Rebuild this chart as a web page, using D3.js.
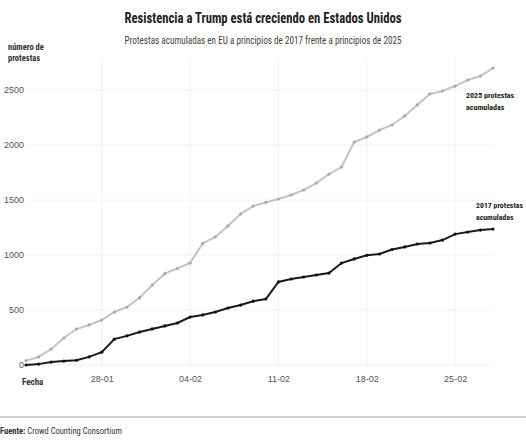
<!DOCTYPE html>
<html>
<head>
<meta charset="utf-8">
<script src="https://cdn.jsdelivr.net/npm/d3@7"></script>
<style>
  body { margin: 0; background: #fff; }
  svg { display: block; font-family: "Liberation Sans Narrow", "Roboto Condensed", Roboto, sans-serif; }
</style>
</head>
<body>
<div id="chart"></div>
<script>
// fechas (días consecutivos, 22-01 a 28-02)
const startDate = new Date(2025, 0, 22);
const days = d3.range(38).map(i => d3.timeDay.offset(startDate, i));

// protestas acumuladas
const protestas2025 = [40, 73, 145, 245, 327, 364, 409, 482, 527, 612,
  727, 830, 878, 927, 1105, 1164, 1264, 1373, 1445, 1478,
  1509, 1545, 1591, 1654, 1736, 1800, 2027, 2073, 2136, 2182,
  2264, 2364, 2464, 2491, 2536, 2591, 2627, 2700];
const protestas2017 = [0, 8, 27, 36, 43, 74, 117, 235, 265, 300,
  328, 355, 382, 436, 455, 482, 518, 545, 580, 600,
  755, 782, 800, 818, 836, 927, 964, 997, 1009, 1050,
  1073, 1100, 1109, 1136, 1190, 1209, 1227, 1236];

const yTicks = [0, 500, 1000, 1500, 2000, 2500];
const xTicks = [new Date(2025, 0, 28), new Date(2025, 1, 4), new Date(2025, 1, 11), new Date(2025, 1, 18), new Date(2025, 1, 25)];

const width = 526, height = 448;

const svg = d3.select('#chart').append('svg')
  .attr('width', width)
  .attr('height', height);

const x = d3.scaleTime()
  .domain([days[0], days[days.length - 1]])
  .range([26, 493]);

const y = d3.scaleLinear()
  .domain([0, 2500])
  .range([365, 90]);

// titulo
svg.append('text')
  .attr('x', 263).attr('y', 23)
  .attr('text-anchor', 'middle')
  .attr('font-size', 15.5)
  .attr('font-weight', 'bold')
  .attr('fill', '#222')
  .attr('textLength', 277)
  .attr('lengthAdjust', 'spacingAndGlyphs')
  .text('Resistencia a Trump está creciendo en Estados Unidos');

svg.append('text')
  .attr('x', 263).attr('y', 44)
  .attr('text-anchor', 'middle')
  .attr('font-size', 11)
  .attr('fill', '#444')
  .attr('textLength', 277)
  .attr('lengthAdjust', 'spacingAndGlyphs')
  .text('Protestas acumuladas en EU a principios de 2017 frente a principios de 2025');

// etiqueta eje y
const yLab = svg.append('text')
  .attr('font-size', 8.5)
  .attr('font-weight', 'bold')
  .attr('fill', '#333');
yLab.append('tspan').attr('x', 8).attr('y', 50).text('número de');
yLab.append('tspan').attr('x', 8).attr('y', 61).text('protestas');

// rejilla
svg.append('g')
  .selectAll('line')
  .data(yTicks)
  .join('line')
  .attr('x1', 26).attr('x2', 493)
  .attr('y1', d => y(d)).attr('y2', d => y(d))
  .attr('stroke', '#f2f2f2');

svg.append('g')
  .selectAll('line')
  .data(xTicks)
  .join('line')
  .attr('x1', d => x(d)).attr('x2', d => x(d))
  .attr('y1', 58).attr('y2', 370)
  .attr('stroke', '#f2f2f2');

// ejes
svg.append('g')
  .attr('transform', 'translate(25,0)')
  .call(d3.axisLeft(y).tickValues(yTicks).tickFormat(d3.format('d')).tickSize(0).tickPadding(1))
  .call(g => g.select('.domain').remove())
  .call(g => g.selectAll('text')
    .attr('font-family', null)
    .attr('font-size', 9)
    .attr('fill', '#555'));

svg.append('g')
  .attr('transform', 'translate(0,374)')
  .call(d3.axisBottom(x).tickValues(xTicks).tickFormat(d3.timeFormat('%d-%m')).tickSize(0).tickPadding(2))
  .call(g => g.select('.domain').remove())
  .call(g => g.selectAll('text')
    .attr('font-family', null)
    .attr('font-size', 9)
    .attr('fill', '#555'));

svg.append('text')
  .attr('x', 22).attr('y', 385)
  .attr('font-size', 9)
  .attr('font-weight', 'bold')
  .attr('fill', '#333')
  .text('Fecha');

// lineas
const series = [
  { values: protestas2025, color: '#c4c4c4', dot: '#aaaaaa' },
  { values: protestas2017, color: '#1a1a1a', dot: '#111' }
];

const line = d3.line()
  .x((d, i) => x(days[i]))
  .y(d => y(d));

series.forEach(s => {
  svg.append('path')
    .datum(s.values)
    .attr('fill', 'none')
    .attr('stroke', s.color)
    .attr('stroke-width', 2)
    .attr('d', line);

  svg.append('g')
    .selectAll('circle')
    .data(s.values)
    .join('circle')
    .attr('cx', (d, i) => x(days[i]))
    .attr('cy', d => y(d))
    .attr('r', 1.6)
    .attr('fill', s.dot);
});

// anotaciones
const lab25 = svg.append('text')
  .attr('font-size', 8)
  .attr('font-weight', 'bold')
  .attr('fill', '#222');
lab25.append('tspan').attr('x', 466).attr('y', 98).text('2025 protestas');
lab25.append('tspan').attr('x', 466).attr('y', 110).text('acumuladas');

const lab17 = svg.append('text')
  .attr('font-size', 7.8)
  .attr('font-weight', 'bold')
  .attr('fill', '#222');
lab17.append('tspan').attr('x', 476).attr('y', 208).text('2017 protestas');
lab17.append('tspan').attr('x', 476).attr('y', 220).text('acumuladas');

// fuente
svg.append('line')
  .attr('x1', 0).attr('x2', width)
  .attr('y1', 417).attr('y2', 417)
  .attr('stroke', '#d0d0d0')
  .attr('stroke-width', 2);

const src = svg.append('text')
  .attr('x', 0).attr('y', 434)
  .attr('font-size', 8.5)
  .attr('fill', '#333');
src.append('tspan').attr('font-weight', 'bold').text('Fuente: ');
src.append('tspan').text('Crowd Counting Consortium');
</script>
</body>
</html>
